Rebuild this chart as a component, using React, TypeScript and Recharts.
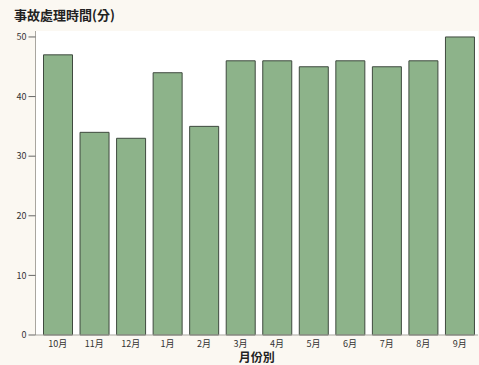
import { BarChart, Bar, XAxis, YAxis, CartesianGrid, Label } from 'recharts'

// 事故處理時間 by month
const months = ['10月', '11月', '12月', '1月', '2月', '3月', '4月', '5月', '6月', '7月', '8月', '9月']
const minutes = [47, 34, 33, 44, 35, 46, 46, 45, 46, 45, 46, 50]
const yTicks = [0, 10, 20, 30, 40, 50]

const data = months.map((m, i) => ({ month: m, value: minutes[i] }))

const font = '"Noto Sans CJK TC", "Noto Sans", sans-serif'
const frame = '#a9a6a0'
const tickStyle = { fontSize: 9, fill: '#333', fontFamily: font }

export default function App() {
  return (
    <div style={{ position: 'relative', width: 479, height: 365, background: '#fbf8f2', fontFamily: font }}>
      <style>{'body{margin:0}'}</style>
      <div
        style={{
          position: 'absolute',
          left: 14,
          top: 6,
          fontSize: 13,
          fontWeight: 700,
          color: '#222',
          lineHeight: '18px',
        }}
      >
        事故處理時間(分)
      </div>
      <BarChart
        width={479}
        height={365}
        data={data}
        margin={{ top: 31, right: 1, bottom: 0, left: 0 }}
        barCategoryGap={4}
      >
        <CartesianGrid fill="#fff" horizontal={false} vertical={false} />
        <XAxis
          dataKey="month"
          tick={tickStyle}
          tickLine={false}
          axisLine={{ stroke: frame }}
          padding={{ left: 4, right: 0 }}
          height={30}
          interval={0}
          tickSize={6}
          tickMargin={0}
        >
          <Label
            value="月份別"
            position="insideBottom"
            offset={3}
            style={{ fontSize: 12, fontWeight: 700, fill: '#222', fontFamily: font }}
          />
        </XAxis>
        <XAxis xAxisId="top" orientation="top" dataKey="month" height={0} tick={false} tickLine={false} axisLine={{ stroke: frame }} />
        <YAxis
          domain={[0, 51]}
          ticks={yTicks}
          tick={tickStyle}
          tickLine={{ stroke: '#666' }}
          tickSize={7}
          tickMargin={2}
          axisLine={{ stroke: frame }}
          width={35.5}
        />
        <YAxis yAxisId="right" orientation="right" width={0} tick={false} tickLine={false} axisLine={{ stroke: frame }} />
        <Bar dataKey="value" fill="#8db38a" stroke="#3f4a3f" strokeWidth={1} isAnimationActive={false} />
      </BarChart>
    </div>
  )
}
